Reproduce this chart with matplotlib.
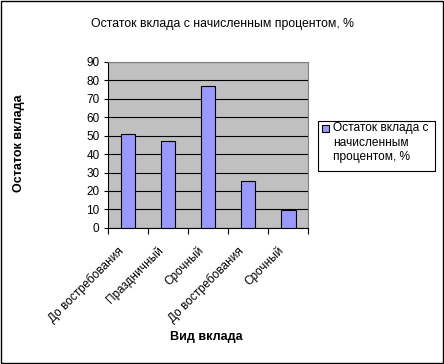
import numpy as np
import matplotlib
matplotlib.use("Agg")
import matplotlib.pyplot as plt
from matplotlib.patches import Rectangle

plt.rcParams['font.family'] = ['Liberation Sans', 'DejaVu Sans']

categories = ["До востребования", "Праздничный", "Срочный", "До востребования", "Срочный"]
values = [51, 47, 77, 25.5, 9.5]
series_name = "Остаток вклада с\nначисленным\nпроцентом, %"
title = "Остаток вклада с начисленным процентом, %"
yticks = list(range(0, 91, 10))
bar_color = "#9999ff"

fig = plt.figure(figsize=(4.44, 3.64), dpi=100)
fig.patch.set_facecolor("white")
fig.patches.append(Rectangle((0.002, 0.003), 0.995, 0.994, transform=fig.transFigure,
                             fill=False, edgecolor="black", linewidth=1))

ax = fig.add_axes([0.243, 0.374, 0.451, 0.456])
ax.set_facecolor("#c0c0c0")
x = np.arange(len(categories))
bars = ax.bar(x, values, width=0.37, color=bar_color, edgecolor="black", linewidth=0.8,
              zorder=3)
ax.set_xlim(-0.5, len(categories) - 0.5)
ax.set_ylim(0, 90)
ax.set_yticks(yticks)
ax.yaxis.grid(True, color="black", linewidth=0.8, zorder=1)
ax.set_axisbelow(True)
ax.tick_params(axis="y", labelsize=8.5, length=3, direction="out", pad=3)

ax.set_xticks(np.arange(-0.5, len(categories), 1.0))
ax.set_xticklabels([])
ax.set_xticks(x - 0.27, minor=True)
ax.set_xticklabels(categories, minor=True, rotation=45, ha="right", va="top",
                   rotation_mode="anchor", fontsize=8.5)
ax.tick_params(axis="x", which="major", length=4, direction="out")
ax.tick_params(axis="x", which="minor", length=0, pad=12)
for s in ["top", "right"]:
    ax.spines[s].set_color("#808080")
    ax.spines[s].set_linewidth(0.8)
ax.spines["left"].set_linewidth(0.8)
ax.spines["bottom"].set_linewidth(0.8)

fig.text(0.5, 0.934, title, ha="center", va="center", fontsize=8.8)
fig.text(0.042, 0.607, "Остаток вклада", rotation=90, ha="center", va="center",
         fontsize=9, fontweight="bold")
fig.text(0.465, 0.074, "Вид вклада", ha="center", va="center", fontsize=9, fontweight="bold")

# legend drawn by hand so the marker sits on the first line, like Excel
fig.patches.append(Rectangle((318 / 444, 1 - 171 / 364), 117 / 444, 50 / 364,
                             transform=fig.transFigure, facecolor="white",
                             edgecolor="black", linewidth=0.8))
fig.patches.append(Rectangle((322 / 444, 1 - 132 / 364), 7 / 444, 7 / 364,
                             transform=fig.transFigure, facecolor=bar_color,
                             edgecolor="black", linewidth=0.8))
fig.text(333 / 444, 1 - 122 / 364, series_name, ha="left", va="top", fontsize=8.6,
         linespacing=1.3)

fig.savefig("out.png", dpi=100)
